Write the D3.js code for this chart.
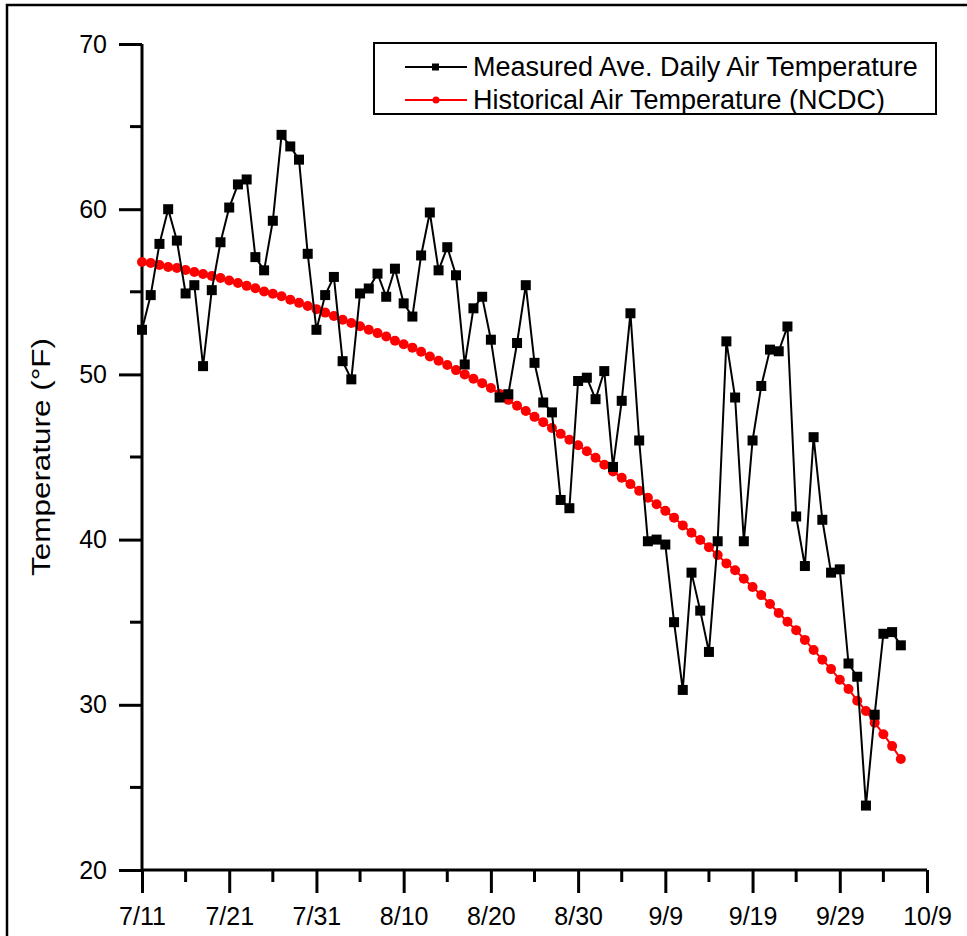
<!DOCTYPE html>
<html>
<head>
<meta charset="utf-8">
<script src="https://cdn.jsdelivr.net/npm/d3@7"></script>
<style>
  body { margin: 0; background: #fff; }
  svg { display: block; font-family: Arial, "Liberation Sans", sans-serif; }
</style>
</head>
<body>
<svg width="967" height="936"></svg>
<script>
var svg = d3.select("svg"),
    width = +svg.attr("width"),
    height = +svg.attr("height");

// Day 0 = 7/11, one value per day through 10/6
var measured = [52.7, 54.8, 57.9, 60.0, 58.1, 54.9, 55.4, 50.5, 55.1, 58.0,
  60.1, 61.5, 61.8, 57.1, 56.3, 59.3, 64.5, 63.8, 63.0, 57.3,
  52.7, 54.8, 55.9, 50.8, 49.7, 54.9, 55.2, 56.1, 54.7, 56.4,
  54.3, 53.5, 57.2, 59.8, 56.3, 57.7, 56.0, 50.6, 54.0, 54.7,
  52.1, 48.6, 48.8, 51.9, 55.4, 50.7, 48.3, 47.7, 42.4, 41.9,
  49.6, 49.8, 48.5, 50.2, 44.4, 48.4, 53.7, 46.0, 39.9, 40.0,
  39.7, 35.0, 30.9, 38.0, 35.7, 33.2, 39.9, 52.0, 48.6, 39.9,
  46.0, 49.3, 51.5, 51.4, 52.9, 41.4, 38.4, 46.2, 41.2, 38.0,
  38.2, 32.5, 31.7, 23.9, 29.4, 34.3, 34.4, 33.6];

var historical = [56.8, 56.74, 56.62, 56.5, 56.44, 56.32, 56.2, 56.08, 55.96, 55.84,
  55.68, 55.53, 55.36, 55.22, 55.02, 54.88, 54.73, 54.52, 54.33, 54.14,
  53.95, 53.74, 53.54, 53.31, 53.11, 52.92, 52.7, 52.5, 52.29, 52.04,
  51.83, 51.62, 51.37, 51.08, 50.83, 50.57, 50.26, 50.0, 49.74, 49.47,
  49.18, 48.82, 48.46, 48.1, 47.78, 47.43, 47.11, 46.76, 46.4, 46.04,
  45.71, 45.35, 44.95, 44.53, 44.12, 43.74, 43.36, 42.95, 42.53, 42.14,
  41.74, 41.33, 40.86, 40.42, 39.98, 39.54, 39.07, 38.56, 38.14, 37.63,
  37.13, 36.64, 36.1, 35.56, 35.03, 34.52, 33.93, 33.32, 32.73, 32.16,
  31.52, 30.96, 30.25, 29.63, 28.92, 28.22, 27.5, 26.72];

var xTickDays = [0, 10, 20, 30, 40, 50, 60, 70, 80, 90];
var xTickLabels = ["7/11", "7/21", "7/31", "8/10", "8/20", "8/30", "9/9", "9/19", "9/29", "10/9"];
var yTicks = [20, 30, 40, 50, 60, 70];

var seriesNames = ["Measured Ave. Daily Air Temperature", "Historical Air Temperature (NCDC)"];

var plotLeft = 142, plotRight = 927, plotTop = 44, plotBottom = 870;

var x = d3.scaleLinear().domain([0, 90]).range([plotLeft, plotRight]);
var y = d3.scaleLinear().domain([20, 70]).range([plotBottom, plotTop]);

// outer frame (runs off the right and bottom of the picture)
svg.append("rect")
    .attr("x", 7).attr("y", 5)
    .attr("width", 1000).attr("height", 1000)
    .attr("fill", "none")
    .attr("stroke", "#000")
    .attr("stroke-width", 2.5);

// x axis
var xAxis = d3.axisBottom(x)
    .tickValues(xTickDays)
    .tickSize(23)
    .tickPadding(14)
    .tickFormat(function(d, i) { return xTickLabels[i]; });

var gx = svg.append("g").attr("transform", "translate(0," + plotBottom + ")").call(xAxis);
gx.select(".domain").attr("stroke-width", 3).attr("d", "M" + plotLeft + ",0H" + plotRight);
gx.selectAll(".tick line").attr("stroke-width", 3);
gx.selectAll(".tick text").attr("font-size", 25).attr("font-family", "Arial, 'Liberation Sans', sans-serif").attr("fill", "#000");

var xMinor = d3.range(5, 90, 10);
gx.selectAll(".minor").data(xMinor).enter().append("line")
    .attr("x1", function(d) { return x(d); }).attr("x2", function(d) { return x(d); })
    .attr("y1", 0).attr("y2", 12)
    .attr("stroke", "#000").attr("stroke-width", 3);

// y axis
var yAxis = d3.axisLeft(y)
    .tickValues(yTicks)
    .tickSize(23)
    .tickPadding(12);

var gy = svg.append("g").attr("transform", "translate(" + plotLeft + ",0)").call(yAxis);
gy.select(".domain").attr("stroke-width", 3).attr("d", "M0," + plotBottom + "V" + plotTop);
gy.selectAll(".tick line").attr("stroke-width", 3);
gy.selectAll(".tick text").attr("font-size", 25).attr("font-family", "Arial, 'Liberation Sans', sans-serif").attr("fill", "#000");

var yMinor = d3.range(25, 70, 10);
gy.selectAll(".minor").data(yMinor).enter().append("line")
    .attr("y1", function(d) { return y(d); }).attr("y2", function(d) { return y(d); })
    .attr("x1", 0).attr("x2", -12)
    .attr("stroke", "#000").attr("stroke-width", 3);

// axis title is drawn stretched along its length, as in the original
svg.append("text")
    .attr("transform", "translate(50," + ((plotTop + plotBottom) / 2) + ") rotate(-90)")
    .attr("text-anchor", "middle")
    .attr("font-size", 26)
    .attr("textLength", 238)
    .attr("lengthAdjust", "spacingAndGlyphs")
    .text("Temperature (\u00B0F)");

var line = d3.line()
    .x(function(d, i) { return x(i); })
    .y(function(d) { return y(d); });

// historical (red)
svg.append("path")
    .datum(historical)
    .attr("d", line)
    .attr("fill", "none")
    .attr("stroke", "#ff0000")
    .attr("stroke-width", 2);

svg.append("g").selectAll("circle")
    .data(historical).enter().append("circle")
    .attr("cx", function(d, i) { return x(i); })
    .attr("cy", function(d) { return y(d); })
    .attr("r", 5)
    .attr("fill", "#ff0000");

// measured (black)
svg.append("path")
    .datum(measured)
    .attr("d", line)
    .attr("fill", "none")
    .attr("stroke", "#000")
    .attr("stroke-width", 2);

svg.append("g").selectAll("rect")
    .data(measured).enter().append("rect")
    .attr("x", function(d, i) { return x(i) - 5; })
    .attr("y", function(d) { return y(d) - 5; })
    .attr("width", 10).attr("height", 10)
    .attr("fill", "#000");

// legend
var legend = svg.append("g");
legend.append("rect")
    .attr("x", 374).attr("y", 43)
    .attr("width", 562).attr("height", 71)
    .attr("fill", "#fff")
    .attr("stroke", "#000")
    .attr("stroke-width", 2);

var legendColors = ["#000", "#ff0000"];
seriesNames.forEach(function(name, i) {
  var ly = 67 + i * 33;
  legend.append("line")
      .attr("x1", 405).attr("x2", 467)
      .attr("y1", ly).attr("y2", ly)
      .attr("stroke", legendColors[i]).attr("stroke-width", 2);
  if (i == 0) {
    legend.append("rect")
        .attr("x", 432).attr("y", ly - 3.5)
        .attr("width", 7).attr("height", 7)
        .attr("fill", "#000");
  } else {
    legend.append("circle")
        .attr("cx", 436).attr("cy", ly)
        .attr("r", 3.5)
        .attr("fill", "#ff0000");
  }
  legend.append("text")
      .attr("x", 473).attr("y", ly + 9)
      .attr("font-size", 27)
      .text(name);
});
</script>
</body>
</html>
